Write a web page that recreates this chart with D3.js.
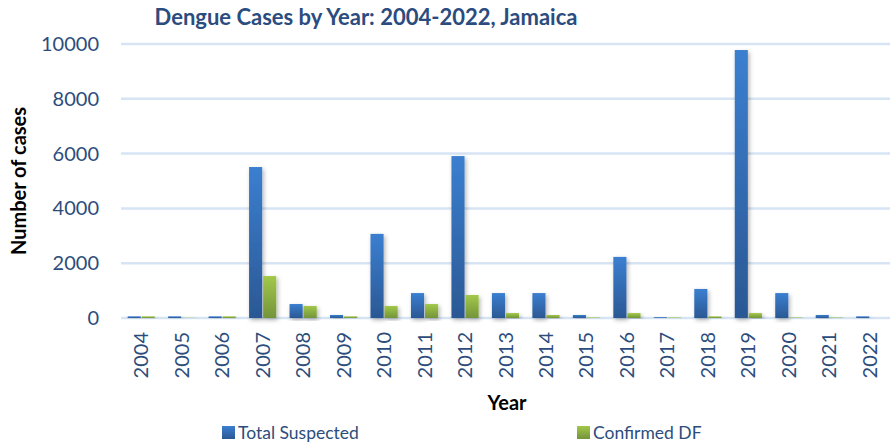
<!DOCTYPE html>
<html>
<head>
<meta charset="utf-8">
<script src="https://cdn.jsdelivr.net/npm/d3@7"></script>
<style>
  body { margin: 0; background: #fff; }
  svg { display: block; font-family: Lato, "Open Sans", sans-serif; }
</style>
</head>
<body>
<div id="chart"></div>
<script>
var years = ["2004","2005","2006","2007","2008","2009","2010","2011","2012","2013",
             "2014","2015","2016","2017","2018","2019","2020","2021","2022"];
var totalSuspected = [60, 60, 60, 5510, 510, 110, 3070, 910, 5910, 910,
                      910, 110, 2230, 30, 1060, 9780, 910, 110, 60];
var confirmedDF = [60, 10, 60, 1530, 440, 60, 440, 510, 840, 180,
                   110, 20, 180, 20, 60, 180, 20, 20, 0];
var yTicks = [0, 2000, 4000, 6000, 8000, 10000];
var seriesNames = ["Total Suspected", "Confirmed DF"];

var width = 891, height = 445;
var plotLeft = 121, plotRight = 890, plotTop = 44, plotBottom = 318;
var textColor = "#2c4d7c";

var data = years.map(function(yr, i) {
  return { year: yr, values: [totalSuspected[i], confirmedDF[i]] };
});

var svg = d3.select("#chart").append("svg")
  .attr("width", width)
  .attr("height", height);

var defs = svg.append("defs");
var grads = [["gBlue", "#3b7fd0", "#2b5894"], ["gGreen", "#a2c84a", "#74943a"]];
grads.forEach(function(g) {
  var lg = defs.append("linearGradient")
    .attr("id", g[0]).attr("x1", 0).attr("y1", 0).attr("x2", 0).attr("y2", 1);
  lg.append("stop").attr("offset", "0%").attr("stop-color", g[1]);
  lg.append("stop").attr("offset", "100%").attr("stop-color", g[2]);
});
defs.append("filter").attr("id", "shadow")
  .attr("x", "-50%").attr("y", "-10%").attr("width", "200%").attr("height", "130%")
  .append("feDropShadow")
  .attr("dx", 1.5).attr("dy", 2).attr("stdDeviation", 2)
  .attr("flood-color", "#000").attr("flood-opacity", 0.3);

var x0 = d3.scaleBand().domain(years).range([plotLeft, plotRight]).paddingInner(0.28).paddingOuter(0.14);
var x1 = d3.scaleBand().domain([0, 1]).range([0, x0.bandwidth()]).padding(0.07);
var yScale = d3.scaleLinear().domain([0, 10000]).range([plotBottom, plotTop]);
var fills = ["url(#gBlue)", "url(#gGreen)"];

// gridlines
svg.append("g")
  .selectAll("line")
  .data(yTicks)
  .enter().append("line")
  .attr("x1", plotLeft).attr("x2", plotRight)
  .attr("y1", function(d) { return yScale(d); })
  .attr("y2", function(d) { return yScale(d); })
  .attr("stroke", "#d6e4f4")
  .attr("stroke-width", 2.5);

// y axis labels
var yAxis = svg.append("g")
  .attr("transform", "translate(" + (plotLeft - 12) + ",0)")
  .call(d3.axisLeft(yScale).tickValues(yTicks).tickSize(0).tickPadding(10).tickFormat(d3.format("d")));
yAxis.select(".domain").remove();
yAxis.selectAll("text")
  .style("font-size", "20px")
  .style("font-family", "Lato, sans-serif")
  .attr("fill", textColor);

// bars
var groups = svg.append("g")
  .selectAll("g")
  .data(data)
  .enter().append("g")
  .attr("transform", function(d) { return "translate(" + x0(d.year) + ",0)"; });

groups.selectAll("rect")
  .data(function(d) { return d.values; })
  .enter().append("rect")
  .attr("x", function(d, i) { return x1(i); })
  .attr("y", function(d) { return yScale(d); })
  .attr("width", x1.bandwidth())
  .attr("height", function(d) { return plotBottom - yScale(d); })
  .attr("fill", function(d, i) { return fills[i]; })
  .attr("filter", "url(#shadow)");

// x axis labels
var xAxis = svg.append("g")
  .attr("transform", "translate(0," + plotBottom + ")")
  .call(d3.axisBottom(x0).tickSize(0).tickPadding(0));
xAxis.select(".domain").remove();
xAxis.selectAll("text")
  .attr("transform", "rotate(-90)")
  .attr("x", -14)
  .attr("y", 0)
  .attr("dy", "0.35em")
  .style("text-anchor", "end")
  .style("font-size", "20px")
  .style("font-family", "Lato, sans-serif")
  .attr("fill", textColor);

// title
svg.append("text")
  .attr("x", 366)
  .attr("y", 25)
  .attr("text-anchor", "middle")
  .style("font-size", "22px")
  .style("font-weight", 700)
  .attr("fill", "#2b4c7e")
  .text("Dengue Cases by Year: 2004-2022, Jamaica");

// axis titles
svg.append("text")
  .attr("transform", "translate(26,181) rotate(-90)")
  .attr("text-anchor", "middle")
  .style("font-size", "20px")
  .style("font-weight", 700)
  .attr("fill", "#000")
  .text("Number of cases");

svg.append("text")
  .attr("x", 507)
  .attr("y", 410)
  .attr("text-anchor", "middle")
  .style("font-size", "20px")
  .style("font-weight", 700)
  .attr("fill", "#000")
  .text("Year");

// legend
var legendX = [222, 577];
seriesNames.forEach(function(name, i) {
  svg.append("rect")
    .attr("x", legendX[i]).attr("y", 426)
    .attr("width", 13).attr("height", 13)
    .attr("fill", fills[i]);
  svg.append("text")
    .attr("x", legendX[i] + 16).attr("y", 439)
    .style("font-size", "17.5px")
    .attr("fill", textColor)
    .text(name);
});
</script>
</body>
</html>
